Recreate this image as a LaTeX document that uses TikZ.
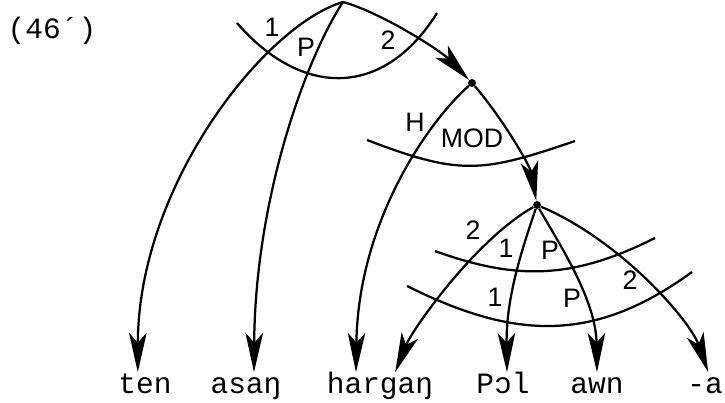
\documentclass[tikz,border=0pt]{standalone}
\usepackage{fontspec}
\usepackage{tikz}
\usetikzlibrary{arrows.meta,positioning,calc}
\newfontfamily\wordfont{Liberation Mono}
\newfontfamily\relfont{Liberation Sans}

\begin{document}
\begin{tikzpicture}[
  dot/.style={circle, fill=black, inner sep=2pt},
  rel/.style={line width=1.6pt, -{Stealth[length=28pt, width=12.5pt, inset=7pt]}},
  tier/.style={line width=1.6pt},
  rlabel/.style={font=\relfont\fontsize{19}{21}\selectfont, inner sep=0pt},
  word/.style={font=\wordfont\fontsize{21}{24}\selectfont, anchor=base, inner sep=0pt, text height=14.6pt}
]
\useasboundingbox (0,0) rectangle (18.125,-10.075);
\node[font=\wordfont\fontsize{21}{24}\selectfont] (num) at (1.3,-0.775) {(46´)};
% nodes of the tree
\coordinate (root) at (8.575,-0.05);
\node[dot] (mod) at (11.8,-2.075) {};
\node[dot] (poss) at (13.425,-5.125) {};
% the words
\node[word] (ten) at (3.625,-9.825) {ten};
\node[word] (asan) at (6.15,-9.825) {asaŋ};
\node[word] (hargan) at (9.5,-9.825) {hargaŋ};
\node[word] (pol) at (12.575,-9.825) {Pɔl};
\node[word] (awn) at (14.925,-9.825) {awn};
\node[word] (suff) at (17.625,-9.825) {-a};
% edges
\draw[rel] (root) .. controls (6.625,-0.625) and (3.45,-4.625) .. ([xshift=-.18cm]ten.north);
\draw[rel] (root) .. controls (7.625,-1.5) and (6.375,-5) .. ([xshift=.2cm]asan.north);
\draw[rel] (root) .. controls (9.5,-0.3) and (11,-1.25) .. (mod);
\draw[rel] (mod) .. controls (10.75,-3) and (8.95,-5.5) .. ([xshift=-.6cm]hargan.north);
\draw[rel] (mod) .. controls (12.5,-2.875) and (13.25,-4.125) .. (poss);
\draw[rel] (poss) .. controls (11.875,-6) and (10.3,-8.25) .. ([xshift=.38cm]hargan.north);
\draw[rel] (poss) .. controls (13,-6.375) and (12.65,-7.5) .. ([xshift=.1cm]pol.north);
\draw[rel] (poss) .. controls (14,-6.125) and (14.9,-7.5) .. (awn.north);
\draw[rel] (poss) .. controls (15.5,-6) and (17.25,-8) .. ([xshift=.08cm]suff.north);
% tiers
\draw[tier] (5.925,-0.575) .. controls (7.565,-2.46) and (9.6,-2.445) .. (10.925,-0.325);
\draw[tier] (9.175,-3.5) .. controls (11.49,-4.385) and (12.03,-4.33) .. (14.375,-3.525);
\draw[tier] (10.875,-6.275) .. controls (12.98,-7.04) and (14.375,-6.95) .. (16.375,-5.95);
\draw[tier] (10.175,-7.15) .. controls (12.88,-8.5) and (14.85,-8.58) .. (17.3,-6.8);
% relation labels
\node[rlabel] (l1) at (6.8,-0.675) {1};
\node[rlabel] (l2) at (7.65,-1.175) {P};
\node[rlabel] (l3) at (9.7,-1.0) {2};
\node[rlabel] (l4) at (10.375,-3.05) {H};
\node[rlabel] (l5) at (11.8,-3.45) {MOD};
\node[rlabel] (l6) at (11.825,-5.75) {2};
\node[rlabel] (l7) at (12.65,-6.2) {1};
\node[rlabel] (l8) at (13.75,-6.25) {P};
\node[rlabel] (l9) at (12.375,-7.425) {1};
\node[rlabel] (l10) at (14.3,-7.45) {P};
\node[rlabel] (l11) at (15.75,-7.0) {2};
\end{tikzpicture}
\end{document}
